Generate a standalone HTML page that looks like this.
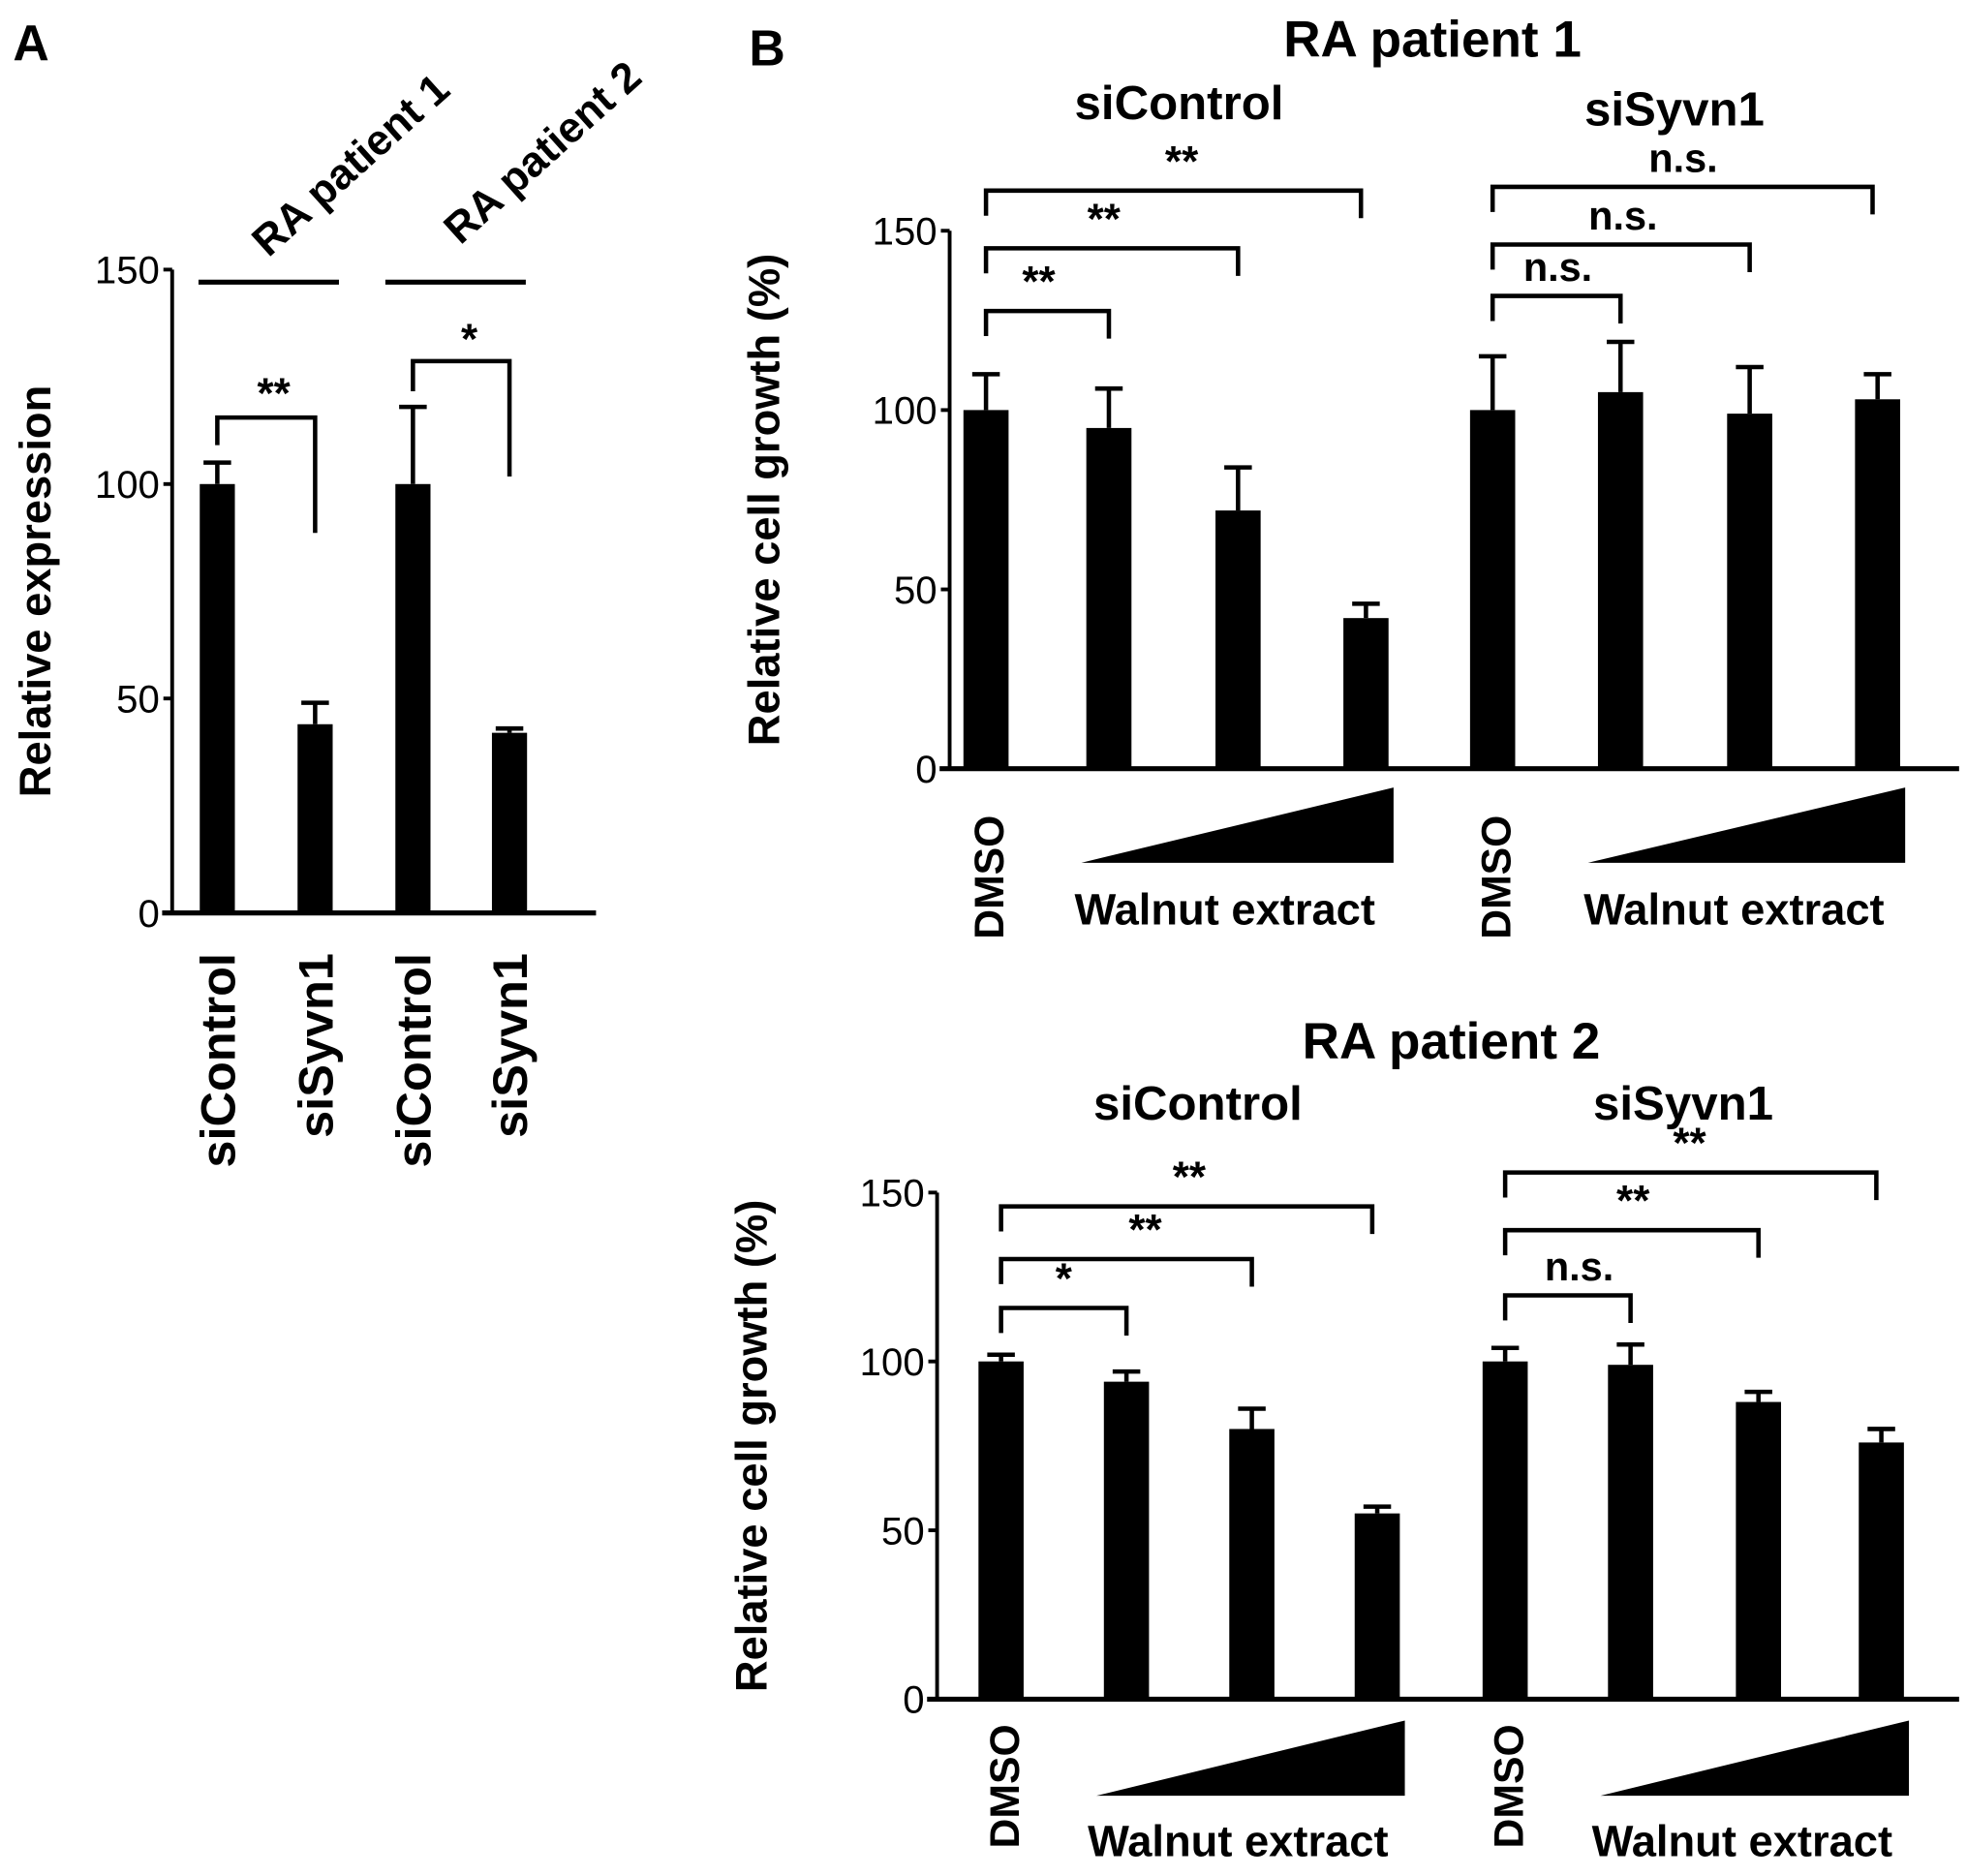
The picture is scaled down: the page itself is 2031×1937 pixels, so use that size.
<!DOCTYPE html>
<html><head><meta charset="utf-8"><style>
html,body{margin:0;padding:0;background:#fff;}
svg{display:block;font-family:"Liberation Sans",Arial,sans-serif;}
</style></head><body>
<svg id="fig" width="2031" height="1937" viewBox="0 0 1568 1496" xmlns="http://www.w3.org/2000/svg">
<rect width="1568" height="1496" fill="#fff"/>
<g id="root"></g>
</svg>
<script>
// Panel A data
const aCats = ["siControl","siSyvn1","siControl","siSyvn1"];
const aVals = [100, 44, 100, 42];
const aErr = [5, 5, 18, 1];
const aTicks = [0, 50, 100, 150];
// Panel B top (RA patient 1)
const b1Vals = [100, 95, 72, 42, 100, 105, 99, 103];
const b1Err = [10, 11, 12, 4, 15, 14, 13, 7];
// Panel B bottom (RA patient 2)
const b2Vals = [100, 94, 80, 55, 100, 99, 88, 76];
const b2Err = [2, 3, 6, 2, 4, 6, 3, 4];
const bTicks = [0, 50, 100, 150];
const b1Sig = ["**","**","**","n.s.","n.s.","n.s."];
const b2Sig = ["*","**","**","n.s.","**","**"];

const NS="http://www.w3.org/2000/svg";
const root=document.getElementById('root');
function mk(tag,attrs,parent,text){const e=document.createElementNS(NS,tag);for(const k in attrs)e.setAttribute(k,attrs[k]);if(text!==undefined)e.textContent=text;(parent||root).appendChild(e);return e;}

let t=mk('text',{x:10,y:48,'font-size':40,'font-weight':'bold'},root,'A');


t=mk('text',{x:597,y:52,'font-size':40,'font-weight':'bold'},root,'B');



function axis(g,ax,y0,y150,xEnd,ticks,title,titleX){
  const ys=v=>y0-(y0-y150)*v/150;
  let l=mk('line',{x1:ax,y1:ys(150),x2:ax,y2:y0,stroke:'#000','stroke-width':3},g);
  
  
  l=mk('line',{x1:ax-8,y1:y0,x2:xEnd,y2:y0,stroke:'#000','stroke-width':4},g);
  
  
  ticks.forEach(v=>{
    mk('line',{x1:ax-7,y1:ys(v),x2:ax,y2:ys(v),stroke:'#000','stroke-width':3},g);
    const tt=mk('text',{x:ax-10,y:ys(v)+11,'font-size':31,'text-anchor':'end'},g,String(v));
    
    
  });
  const yt=mk('text',{x:0,y:0,'font-size':35,'font-weight':'bold','text-anchor':'middle',transform:`translate(${titleX},${(y0+y150)/2}) rotate(-90)`},g,title);
  
  
  return ys;
}
function bars(g,xs,vals,errs,ys,w,prefix){
  vals.forEach((v,i)=>{
    const r=mk('rect',{x:xs[i]-w/2,y:ys(v),width:w,height:ys(0)-ys(v),fill:'#000'},g);
    
    
    const e=ys(v+errs[i]);
    const p=mk('path',{d:`M${xs[i]} ${ys(v)}V${e}M${xs[i]-11} ${e}H${xs[i]+11}`,stroke:'#000','stroke-width':3.5,fill:'none'},g);
    
    
  });
}
function bracket(g,x1,x2,y,l1,l2,label,lx,ly){
  const p=mk('path',{d:`M${x1} ${l1}V${y}H${x2}V${l2}`,stroke:'#000','stroke-width':3.5,fill:'none'},g);
  
  
  const tt=mk('text',{x:lx,y:ly,'font-size':label==='n.s.'?32:34,'font-weight':'bold','text-anchor':'middle'},g,label);
  
  
}
function text(g,x,y,s,size,name,rot){
  const tt=mk('text',{x:0,y:0,'font-size':size,'font-weight':'bold','text-anchor':'middle',transform:`translate(${x},${y})`+(rot?` rotate(${rot})`:'')},g,s);
  
  
}

// Panel A
const gA=mk('g',{});


const aX=[173,251,329,406];
const ysA=axis(gA,137,728,215,475,aTicks,'Relative expression',40);
bars(gA,aX,aVals,aErr,ysA,28,'expression');
aCats.forEach((c,i)=>{
  const tt=mk('text',{x:0,y:0,'font-size':39,'font-weight':'bold','text-anchor':'end',transform:`translate(${aX[i]+14},760) rotate(-90)`},gA,c);
  
  
});
mk('line',{x1:158,y1:225,x2:270,y2:225,stroke:'#000','stroke-width':4},gA);
mk('line',{x1:307,y1:225,x2:419,y2:225,stroke:'#000','stroke-width':4},gA);
text(gA,287,140,'RA patient 1',34,'group-label-patient-1',-42);
text(gA,440,130,'RA patient 2',34,'group-label-patient-2',-42);
bracket(gA,aX[0],aX[1],333,355,425,'**',218,325);
bracket(gA,aX[2],aX[3],288,312,380,'*',374,282);

// Panel B
function panelB(name,ax,y0,y150,xs,vals,errs,sig,brk,title,sub,xl){
  const g=mk('g',{});
  
  
  const ys=axis(g,ax,y0,y150,1562,bTicks,'Relative cell growth (%)',ax-136);
  bars(g,xs,vals,errs,ys,36,name);
  text(g,title[0],title[1],title[2],41,'chart-title');
  text(g,sub[0][0],sub[0][1],'siControl',38,'group-title-sicontrol');
  text(g,sub[1][0],sub[1][1],'siSyvn1',38,'group-title-sisyvn1');
  brk.forEach((b,i)=>{
    const base=i<3?xs[0]:xs[4];
    bracket(g,base,xs[b[0]]-(i%3===2?4:0),b[1],b[1]+20,b[1]+22,sig[i],b[2],b[1]-12);
  });
  [0,4].forEach(k=>{
    const tt=mk('text',{x:0,y:0,'font-size':33,'font-weight':'bold','text-anchor':'end',transform:`translate(${xs[k]+14},${xl.top}) rotate(-90)`},g,'DMSO');
    
    
    const x1=xs[k]+76,x2=xs[k+3]+22;
    const p=mk('polygon',{points:`${x1},${xl.tb} ${x2},${xl.tt} ${x2},${xl.tb}`,fill:'#000'},g);
    
    
    text(g,(x1+x2)/2-10,xl.text,'Walnut extract',35,'walnut-extract-label');
  });
}
panelB('patient1-growth',757,613,184,[786,884,987,1089,1190,1292,1395,1497],b1Vals,b1Err,b1Sig,
  [[1,248,828],[2,198,880],[3,152,942],[5,236,1242],[6,195,1294],[7,149,1342]],
  [1142,45,'RA patient 1'],[[940,95],[1335,100]],{top:650,tb:688,tt:628,text:737});
panelB('patient2-growth',747,1355,951,[798,898,998,1098,1200,1300,1402,1500],b2Vals,b2Err,b2Sig,
  [[1,1043,848],[2,1004,913],[3,962,948],[5,1033,1259],[6,981,1302],[7,935,1347]],
  [1157,844,'RA patient 2'],[[955,893],[1342,893]],{top:1375,tb:1432,tt:1372,text:1480});
</script>
</body></html>
